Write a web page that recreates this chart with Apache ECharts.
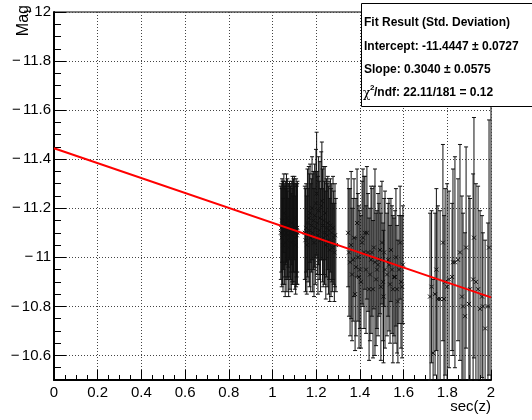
<!DOCTYPE html>
<html><head><meta charset="utf-8">
<script src="https://cdn.jsdelivr.net/npm/echarts@6/dist/echarts.min.js"></script>
<style>html,body{margin:0;padding:0;background:#fff}#c{width:532px;height:420px}</style>
</head><body><div id="c"></div>
<script>
// sec(z) (airmass) of each measurement
const secz = [
 1.038,1.040,1.042,1.044,1.046,1.048,1.050,1.052,1.054,1.056,1.058,1.060,1.062,1.064,1.066,1.068,1.070,1.072,1.074,1.076,
 1.078,1.080,1.082,1.084,1.086,1.088,1.090,1.092,1.094,1.096,1.098,1.100,1.102,1.104,1.106,1.108,1.110,1.111,1.113,1.114,
 1.148,1.151,1.154,1.157,1.160,1.163,1.166,1.169,1.172,1.175,1.178,1.181,1.184,1.187,1.190,1.193,1.196,1.199,1.202,1.205,
 1.208,1.211,1.214,1.217,1.220,1.223,1.226,1.229,1.232,1.235,1.238,1.241,1.244,1.247,1.250,1.253,1.256,1.259,1.262,1.265,
 1.268,1.271,1.274,1.277,1.280,1.283,1.286,1.290,
 1.346,1.350,1.355,1.360,1.364,1.369,1.373,1.378,1.382,1.387,1.391,1.396,1.400,1.405,1.410,1.414,1.419,1.423,1.428,1.432,
 1.437,1.442,1.446,1.451,1.455,1.460,1.464,1.469,1.474,1.478,1.483,1.487,1.492,1.496,1.501,1.506,1.508,1.511,1.515,1.524,
 1.529,1.533,1.538,1.542,1.547,1.551,1.556,1.561,1.565,1.570,1.574,1.579,1.584,1.588,1.593,1.597,
 1.721,1.728,1.735,1.744,1.750,1.757,1.767,1.780,1.785,1.790,1.799,1.808,1.822,1.826,1.835,1.849,1.858,1.867,1.872,1.881,
 1.886,1.899,1.904,1.918,1.922,1.931,1.941,1.950,1.959,1.963,1.973,1.986,1.991
];
// measured magnitude
const mag = [
 -11.10,-11.12,-11.08,-11.15,-11.10,-11.05,-11.13,-11.18,-11.09,-11.11,-11.06,-11.14,-11.10,-11.16,-11.07,-11.12,-11.09,-11.13,-11.04,-11.11,
 -11.15,-11.08,-11.10,-11.12,-11.06,-11.14,-11.09,-11.11,-11.07,-11.13,-11.10,-11.16,-11.08,-11.12,-11.05,-11.10,-11.11,-11.09,-11.12,-11.10,
 -11.10,-11.07,-11.12,-11.05,-11.14,-11.09,-11.16,-11.11,-11.18,-11.08,-11.13,-11.20,-11.10,-11.15,-11.06,-11.17,-11.12,-11.22,-11.26,-11.14,
 -11.09,-11.19,-11.11,-11.16,-11.07,-11.21,-11.23,-11.13,-11.08,-11.15,-11.10,-11.18,-11.05,-11.12,-11.09,-11.14,-11.07,-11.11,-11.03,-11.13,
 -11.06,-11.10,-11.04,-11.12,-11.08,-11.02,-11.09,-11.05,
 -11.10,-11.02,-10.98,-11.05,-10.93,-10.99,-11.08,-10.85,-10.96,-11.14,-11.00,-10.92,-10.95,-10.90,-11.06,-11.08,-11.02,-11.10,-10.95,-11.10,
 -11.02,-10.87,-10.93,-10.99,-11.02,-10.87,-11.04,-10.98,-10.91,-10.95,-10.97,-10.99,-11.03,-10.88,-11.06,-10.90,-10.84,-11.02,-10.95,-10.93,
 -10.99,-10.97,-10.89,-11.03,-10.95,-10.87,-10.92,-10.92,-11.00,-10.87,-10.82,-10.95,-11.06,-10.90,-10.88,-10.97,
 -10.84,-10.88,-10.61,-10.85,-10.95,-10.83,-10.83,-11.06,-10.83,-10.90,-10.88,-10.91,-10.92,-10.98,-10.98,-10.99,-11.02,-10.84,-10.80,-10.76,
 -11.04,-10.81,-10.87,-10.91,-11.08,-10.90,-10.87,-10.79,-10.84,-10.80,-10.71,-10.80,-11.04
];
// standard deviation of each magnitude
const magErr = [
 0.19,0.18,0.20,0.17,0.21,0.19,0.18,0.16,0.20,0.19,0.22,0.17,0.19,0.18,0.21,0.20,0.18,0.17,0.20,0.19,
 0.16,0.21,0.19,0.18,0.20,0.17,0.19,0.22,0.18,0.19,0.20,0.17,0.21,0.18,0.20,0.22,0.19,0.20,0.18,0.21,
 0.19,0.21,0.18,0.20,0.22,0.19,0.21,0.23,0.20,0.22,0.19,0.21,0.24,0.20,0.22,0.21,0.23,0.22,0.25,0.21,
 0.24,0.22,0.20,0.23,0.21,0.22,0.24,0.23,0.20,0.22,0.21,0.19,0.22,0.20,0.21,0.19,0.22,0.20,0.21,0.19,
 0.22,0.20,0.18,0.21,0.19,0.20,0.21,0.19,
 0.22,0.26,0.30,0.30,0.27,0.25,0.24,0.23,0.28,0.22,0.26,0.29,0.24,0.27,0.25,0.28,0.31,0.23,0.26,0.27,
 0.24,0.29,0.27,0.30,0.26,0.28,0.25,0.38,0.27,0.24,0.29,0.23,0.26,0.30,0.25,0.24,0.27,0.22,0.32,0.25,
 0.23,0.27,0.24,0.21,0.26,0.30,0.24,0.27,0.28,0.26,0.25,0.22,0.23,0.27,0.29,0.24,
 0.34,0.31,0.30,0.33,0.33,0.38,0.36,0.40,0.34,0.38,0.42,0.36,0.30,0.38,0.43,0.33,0.44,0.41,0.38,0.34,
 0.41,0.44,0.37,0.43,0.49,0.40,0.42,0.40,0.33,0.30,0.36,0.34,0.52
];
// fit result
const fitIntercept = -11.4447;
const fitSlope = 0.3040;
const fitRange = [0, 2];
const statLines = ['Fit Result (Std. Deviation)', 'Intercept: -11.4447 \u00b1 0.0727', 'Slope: 0.3040 \u00b1 0.0575', '/ndf: 22.11/181 = 0.12'];

const FONT = '"Liberation Sans", Arial, Helvetica, sans-serif';
const points = secz.map((x, i) => [x, mag[i], magErr[i]]);
const fitData = fitRange.map(x => [x, fitIntercept + fitSlope * x]);

const chart = echarts.init(document.getElementById('c'), null, {renderer: 'canvas'});
const yFmt = v => {
  if (Math.abs(v + 10.5) < 1e-6) return '';
  return '{m|\u2212}' + String(+Math.abs(v).toFixed(1));
};
chart.setOption({
  animation: false,
  backgroundColor: '#fff',
  grid: {left: 54, top: 12, width: 437, height: 368, show: true, borderColor: '#000', borderWidth: 1, backgroundColor: 'transparent'},
  xAxis: {
    type: 'value', min: 0, max: 2, interval: 0.2,
    axisLine: {onZero: false, lineStyle: {color: '#000', width: 2}},
    axisTick: {inside: true, length: 10, lineStyle: {color: '#000', width: 1}},
    minorTick: {show: true, splitNumber: 4, length: 5, lineStyle: {color: '#000', width: 1}},
    splitLine: {show: true, lineStyle: {color: '#444', type: [1, 2], width: 1}},
    axisLabel: {fontFamily: FONT, fontSize: 15, color: '#000', margin: 5, showMaxLabel: true, showMinLabel: true,
      formatter: v => String(+v.toFixed(1))}
  },
  yAxis: [{
    type: 'value', inverse: true, min: -12, max: -10.5, interval: 0.2,
    axisLine: {onZero: false, lineStyle: {color: '#000', width: 2}},
    axisTick: {inside: true, length: 12, lineStyle: {color: '#000', width: 1}},
    splitLine: {show: true, lineStyle: {color: '#444', type: [1, 2], width: 1}},
    axisLabel: {fontFamily: FONT, fontSize: 15, color: '#000', margin: 3, showMaxLabel: true, formatter: yFmt,
      rich: {m: {fontFamily: FONT, fontSize: 15, color: '#000', width: 11, align: 'left'}}}
  }, {
    type: 'value', inverse: true, min: -12, max: -10.5, interval: 0.05, position: 'left', offset: 0,
    axisLine: {show: false},
    axisTick: {inside: true, length: 7, lineStyle: {color: '#000', width: 1}},
    splitLine: {show: false},
    axisLabel: {show: false}
  }],
  series: [{
    type: 'custom',
    data: points,
    z: 3,
    renderItem: (params, api) => {
      const x = api.value(0), y = api.value(1), e = api.value(2);
      const cs = params.coordSys;
      const p = api.coord([x, y]);
      const t = api.coord([x, y - e]);
      const b = api.coord([x, y + e]);
      const ymin = cs.y, ymax = cs.y + cs.height;
      const ty = Math.max(ymin, t[1]), by = Math.min(ymax, b[1]);
      const st = {stroke: '#111', lineWidth: 1};
      const ch = [{type: 'line', shape: {x1: p[0], y1: ty, x2: p[0], y2: by}, style: st}];
      if (t[1] >= ymin) ch.push({type: 'line', shape: {x1: p[0] - 2, y1: t[1], x2: p[0] + 2, y2: t[1]}, style: st});
      if (b[1] <= ymax) ch.push({type: 'line', shape: {x1: p[0] - 2, y1: b[1], x2: p[0] + 2, y2: b[1]}, style: st});
      if (p[1] >= ymin && p[1] <= ymax) {
        ch.push({type: 'line', shape: {x1: p[0] - 2, y1: p[1] - 2, x2: p[0] + 2, y2: p[1] + 2}, style: st});
        ch.push({type: 'line', shape: {x1: p[0] - 2, y1: p[1] + 2, x2: p[0] + 2, y2: p[1] - 2}, style: st});
      }
      return {type: 'group', children: ch};
    }
  }, {
    type: 'line', data: fitData, symbol: 'none', z: 5,
    lineStyle: {color: '#ff0000', width: 2}
  }],
  graphic: [
    {type: 'text', z: 10, x: 24, y: 5, rotation: Math.PI / 2,
      style: {text: 'Mag', font: '16px ' + FONT, fill: '#000', align: 'right', verticalAlign: 'middle'}},
    {type: 'text', z: 10, x: 491, y: 407,
      style: {text: 'sec(z)', font: '15px ' + FONT, fill: '#000', align: 'right', verticalAlign: 'middle'}},
    {type: 'rect', z: 20, shape: {x: 361.5, y: 3.5, width: 200, height: 103},
      style: {fill: '#fff', stroke: '#000', lineWidth: 1}},
    {type: 'text', z: 21, x: 364, y: 23, style: {text: statLines[0], font: 'bold 12px ' + FONT, fill: '#000', verticalAlign: 'middle'}},
    {type: 'text', z: 21, x: 364, y: 47, style: {text: statLines[1], font: 'bold 12px ' + FONT, fill: '#000', verticalAlign: 'middle'}},
    {type: 'text', z: 21, x: 364, y: 70, style: {text: statLines[2], font: 'bold 12px ' + FONT, fill: '#000', verticalAlign: 'middle'}},
    {type: 'text', z: 21, x: 363, y: 94, style: {text: '\u03c7', font: '12px "DejaVu Serif", serif', fill: '#000', verticalAlign: 'middle'}},
    {type: 'text', z: 21, x: 370, y: 88, style: {text: '2', font: 'bold 8px ' + FONT, fill: '#000', verticalAlign: 'middle'}},
    {type: 'text', z: 21, x: 374, y: 93, style: {text: statLines[3], font: 'bold 12px ' + FONT, fill: '#000', verticalAlign: 'middle'}}
  ]
});
</script></body></html>
